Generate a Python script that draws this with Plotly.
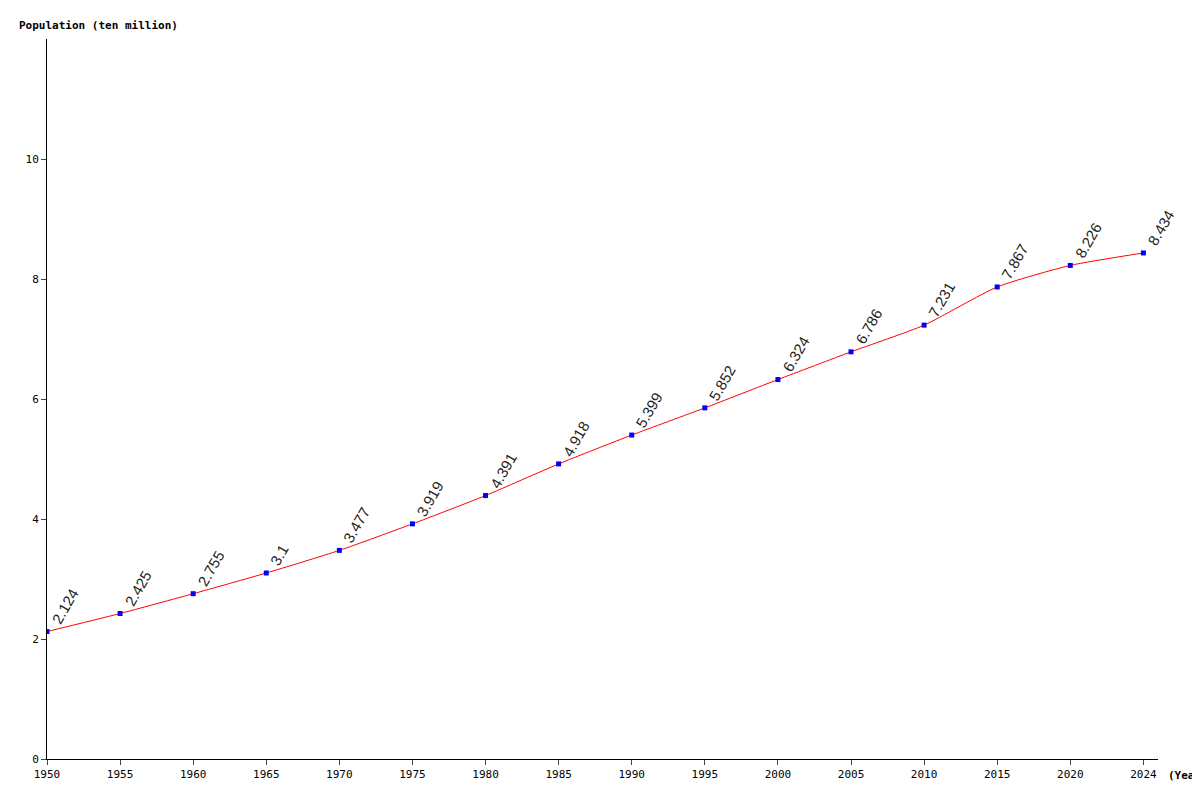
import plotly.graph_objects as go

years = ["1950", "1955", "1960", "1965", "1970", "1975", "1980", "1985",
         "1990", "1995", "2000", "2005", "2010", "2015", "2020", "2024"]
pop = [2.124, 2.425, 2.755, 3.1, 3.477, 3.919, 4.391, 4.918,
       5.399, 5.852, 6.324, 6.786, 7.231, 7.867, 8.226, 8.434]
labels = ["2.124", "2.425", "2.755", "3.1", "3.477", "3.919", "4.391", "4.918",
          "5.399", "5.852", "6.324", "6.786", "7.231", "7.867", "8.226", "8.434"]

fig = go.Figure()
fig.add_trace(go.Scatter(x=years, y=pop, mode="lines",
                         line=dict(color="red", width=1, shape="spline", smoothing=0.6),
                         hoverinfo="skip"))
fig.add_trace(go.Scatter(x=years, y=pop, mode="markers",
                         marker=dict(color="blue", size=5, symbol="square")))

# category axis: annotations placed by category index
for i, (v, t) in enumerate(zip(pop, labels)):
    fig.add_annotation(x=i, y=v, text=t, showarrow=False, textangle=-60,
                       xanchor="left", yanchor="bottom", xshift=-2, yshift=2,
                       font=dict(family="Arial", size=15, color="#222"))

mono = dict(family="DejaVu Sans Mono", size=11, color="black")
fig.update_layout(
    width=1200, height=800, showlegend=False,
    paper_bgcolor="white", plot_bgcolor="white",
    margin=dict(l=39, r=50, t=31, b=49, autoexpand=False),
    font=mono,
    xaxis=dict(type="category", range=[0, 15.2], showgrid=False, automargin=False,
               showline=True, linecolor="black", ticks="outside", ticklen=5,
               tickfont=mono),
    yaxis=dict(range=[0, 12], tickvals=[0, 2, 4, 6, 8, 10], showgrid=False,
               automargin=False,
               showline=True, linecolor="black", ticks="outside", ticklen=5,
               tickfont=mono, zeroline=False),
)
fig.add_annotation(xref="paper", yref="paper", x=-30/1111, y=1.0, yshift=14,
                   text="<b>Population (ten million)</b>", showarrow=False,
                   xanchor="left", yanchor="middle", font=mono)
fig.add_annotation(xref="paper", yref="paper", x=1.0, y=0, xshift=8, yshift=-16,
                   text="<b>(Year)</b>", showarrow=False,
                   xanchor="left", yanchor="middle", font=mono)
fig.write_html("out.html")
